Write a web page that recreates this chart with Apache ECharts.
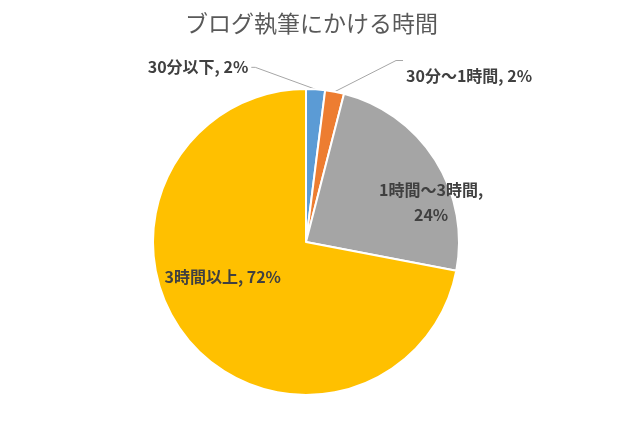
<!DOCTYPE html>
<html>
<head>
<meta charset="utf-8">
<script src="https://cdn.jsdelivr.net/npm/echarts@6/dist/echarts.min.js"></script>
<style>
  html, body { margin: 0; padding: 0; background: #fff; }
  #chart { width: 622px; height: 429px; }
</style>
</head>
<body>
<div id="chart"></div>
<script>
// データ
const categories = ['30分以下', '30分～1時間', '1時間～3時間', '3時間以上'];
const values = [2, 2, 24, 72];
const colors = ['#5B9BD5', '#ED7D31', '#A5A5A5', '#FFC000'];

// ラベルの位置調整（Excel風）
const labelShift = [
  { dx: -184, dy: -4 },
  { dx: 53, dy: 2 },
  { dx: 58, dy: 3 },
  { dx: -22, dy: -16 }
];

const seriesData = categories.map((name, i) => ({
  name: name,
  value: values[i],
  itemStyle: { color: colors[i] },
  label: {
    position: i < 2 ? 'outside' : 'inside',
    formatter: i === 2 ? '{b},\n{d}%' : '{b}, {d}%'
  }
}));

// 引き出し線をずらしたラベルにつなぎ直す
const relinkLabel = (params, s) => {
  const pts = params.labelLinePoints;
  if (!pts) return undefined;
  const r = params.labelRect;
  const left = r.x + s.dx;
  const top = r.y + s.dy;
  const start = pts[0];
  if (params.dataIndex === 0) {
    const end = [left + r.width + 3, top + r.height / 2];
    return [start, [end[0] + 4, end[1]], end];
  }
  const end = [left - 3, top - 3];
  return [start, [end[0] - 7, end[1]], end];
};

const options = {
  animation: false,
  title: {
    text: 'ブログ執筆にかける時間',
    left: 180,
    top: 7,
    textStyle: {
      color: '#595959',
      fontSize: 23,
      fontWeight: 'normal',
      fontFamily: 'Noto Sans CJK JP'
    }
  },
  series: [{
    type: 'pie',
    center: [306, 242],
    radius: 153,
    startAngle: 90,
    clockwise: true,
    avoidLabelOverlap: false,
    itemStyle: {
      borderColor: '#fff',
      borderWidth: 2
    },
    label: {
      color: '#404040',
      fontSize: 16,
      fontWeight: 'bold',
      fontFamily: 'Noto Sans CJK JP',
      lineHeight: 25,
      align: 'center'
    },
    labelLine: {
      show: true,
      length: 18,
      length2: 10,
      lineStyle: { color: '#A6A6A6', width: 1 }
    },
    labelLayout: function (params) {
      const s = labelShift[params.dataIndex];
      const out = { dx: s.dx, dy: s.dy };
      if (params.dataIndex < 2) {
        const pts = relinkLabel(params, s);
        if (pts) out.labelLinePoints = pts;
      }
      return out;
    },
    data: seriesData
  }]
};

const chart = echarts.init(document.getElementById('chart'));
chart.setOption(options);
</script>
</body>
</html>
